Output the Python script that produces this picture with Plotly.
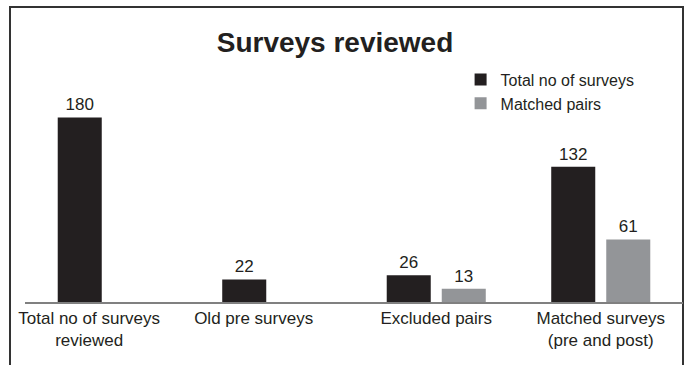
import plotly.graph_objects as go

categories = ["Total no of surveys<br>reviewed", "Old pre surveys", "Excluded pairs",
              "Matched surveys<br>(pre and post)"]
total_surveys = [180, 22, 26, 132]
matched_pairs = [None, None, 13, 61]
series_names = ["Total no of surveys", "Matched pairs"]
label_shift = [-0.11, -0.11, 0, 0]  # tick label offset (category units)

BLACK = "#231f20"
GREY = "#939598"
FONT = "Liberation Sans, Arial, sans-serif"

xpos = list(range(len(categories)))

fig = go.Figure()
fig.add_trace(go.Bar(
    x=xpos, y=total_surveys, name=series_names[0],
    marker=dict(color=BLACK, line=dict(width=0)),
    texttemplate="%{y}", textposition="outside", cliponaxis=False,
    textfont=dict(size=17, color=BLACK, family=FONT),
))
fig.add_trace(go.Bar(
    x=xpos, y=matched_pairs, name=series_names[1],
    marker=dict(color=GREY, line=dict(width=0)),
    texttemplate="%{y}", textposition="outside", cliponaxis=False,
    textfont=dict(size=17, color=BLACK, family=FONT),
))

fig.update_layout(
    width=685, height=365,
    margin=dict(l=25, r=2, t=100, b=63),
    paper_bgcolor="white", plot_bgcolor="white",
    barmode="group", bargap=0.331, bargroupgap=0.2,
    font=dict(family=FONT, color=BLACK, size=17),
    title=dict(text="<b>Surveys reviewed</b>", font=dict(size=28, color=BLACK, family=FONT),
               x=335 / 685, xanchor="center", xref="container",
               y=1 - 42 / 365, yanchor="middle", yref="container"),
    showlegend=True,
    legend=dict(x=0.662, xanchor="left", y=1.185, yanchor="top",
                font=dict(size=16, color=BLACK, family=FONT),
                bgcolor="rgba(0,0,0,0)", tracegroupgap=0, traceorder="normal"),
    xaxis=dict(
        range=[-0.5, 3.5], tickmode="array",
        tickvals=[p + s for p, s in zip(xpos, label_shift)], ticktext=categories,
        showgrid=False, zeroline=False, showline=True, linecolor="#808080", linewidth=1.5,
        ticks="", tickfont=dict(size=17, color=BLACK, family=FONT),
    ),
    yaxis=dict(range=[0, 197], visible=False, showgrid=False, zeroline=False),
    shapes=[dict(type="rect", xref="paper", yref="paper",
                 x0=(10 - 25) / 658, x1=(683 - 25) / 658,
                 y0=(302 - 380) / 202, y1=(302 - 7) / 202,
                 line=dict(color="#333333", width=2), fillcolor="rgba(0,0,0,0)",
                 layer="below")],
)

fig.write_html("out.html")
